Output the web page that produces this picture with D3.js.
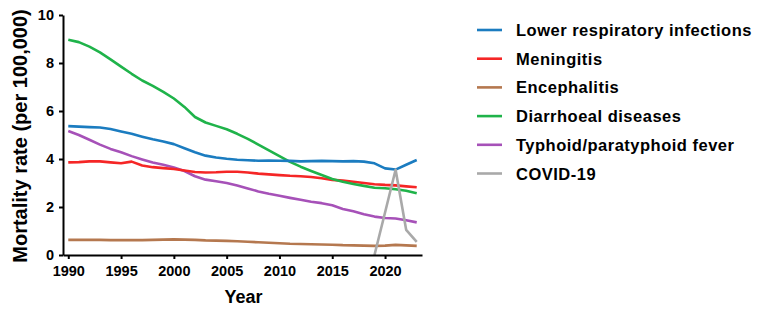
<!DOCTYPE html>
<html>
<head>
<meta charset="utf-8">
<script src="https://cdn.jsdelivr.net/npm/d3@7"></script>
<style>
  html, body { margin: 0; padding: 0; background: #fff; }
  svg { display: block; font-family: "Liberation Sans", Arial, sans-serif; font-weight: bold; }
</style>
</head>
<body>
<svg id="chart" width="762" height="311"></svg>
<script>
const years = d3.range(1990, 2024);

const lowerRespiratory = [5.37,5.35,5.33,5.31,5.25,5.15,5.05,4.93,4.82,4.73,4.62,4.45,4.28,4.14,4.06,4.01,3.97,3.95,3.93,3.94,3.93,3.92,3.90,3.91,3.92,3.91,3.90,3.91,3.89,3.82,3.61,3.56,3.76,3.96];
const meningitis = [3.86,3.87,3.90,3.90,3.86,3.82,3.89,3.73,3.66,3.62,3.58,3.52,3.46,3.44,3.45,3.47,3.47,3.44,3.39,3.36,3.33,3.30,3.28,3.25,3.20,3.13,3.10,3.05,3.00,2.95,2.92,2.90,2.86,2.82];
const encephalitis = [0.63,0.63,0.63,0.63,0.62,0.62,0.62,0.62,0.63,0.64,0.65,0.64,0.63,0.61,0.60,0.59,0.57,0.55,0.53,0.51,0.49,0.47,0.46,0.45,0.44,0.43,0.41,0.40,0.39,0.38,0.39,0.42,0.40,0.38];
const diarrhoeal = [8.97,8.87,8.68,8.44,8.15,7.85,7.55,7.27,7.05,6.80,6.52,6.17,5.75,5.52,5.38,5.24,5.05,4.84,4.60,4.36,4.12,3.88,3.68,3.50,3.33,3.17,3.05,2.96,2.88,2.80,2.78,2.74,2.68,2.57];
const typhoid = [5.17,5.00,4.80,4.60,4.42,4.28,4.12,3.98,3.85,3.76,3.65,3.50,3.28,3.14,3.07,3.00,2.90,2.77,2.65,2.55,2.47,2.38,2.30,2.22,2.16,2.07,1.92,1.82,1.70,1.60,1.54,1.52,1.45,1.36];
const covidYears = [2019, 2020, 2021, 2022, 2023];
const covid = [0, 1.77, 3.55, 1.05, 0.55];

const seriesNames = ["Lower respiratory infections","Meningitis","Encephalitis","Diarrhoeal diseases","Typhoid/paratyphoid fever","COVID-19"];
const seriesColors = ["#1b7cc0","#f52626","#b5784f","#1fb34a","#a651b8","#a9a9a9"];

const xTicks = [1990, 1995, 2000, 2005, 2010, 2015, 2020];
const yTicks = [0, 2, 4, 6, 8, 10];

const series = [
  {name: seriesNames[0], color: seriesColors[0], pts: years.map((y,i)=>[y, lowerRespiratory[i]])},
  {name: seriesNames[1], color: seriesColors[1], pts: years.map((y,i)=>[y, meningitis[i]])},
  {name: seriesNames[2], color: seriesColors[2], pts: years.map((y,i)=>[y, encephalitis[i]])},
  {name: seriesNames[3], color: seriesColors[3], pts: years.map((y,i)=>[y, diarrhoeal[i]])},
  {name: seriesNames[4], color: seriesColors[4], pts: years.map((y,i)=>[y, typhoid[i]])},
  {name: seriesNames[5], color: seriesColors[5], pts: covidYears.map((y,i)=>[y, covid[i]])}
];

const svg = d3.select("#chart");
const x = d3.scaleLinear().domain([1989.5, 2023.5]).range([63, 422]);
const y = d3.scaleLinear().domain([0, 10]).range([255, 15]);

const line = d3.line().x(d => x(d[0])).y(d => y(d[1]));

const drawOrder = [2, 4, 1, 3, 0, 5];
drawOrder.forEach(i => {
  const s = series[i];
  svg.append("path")
    .attr("d", line(s.pts))
    .attr("fill", "none")
    .attr("stroke", s.color)
    .attr("stroke-width", 2.6)
    .attr("stroke-linejoin", "round");
});

// axes
const xAxis = d3.axisBottom(x).tickValues(xTicks).tickFormat(d3.format("d")).tickSize(4).tickPadding(6.5).tickSizeOuter(0);
const yAxis = d3.axisLeft(y).tickValues(yTicks).tickSize(4).tickPadding(5).tickSizeOuter(0);

const gx = svg.append("g").attr("transform", "translate(0,255)").call(xAxis);
const gy = svg.append("g").attr("transform", "translate(63,0)").call(yAxis);
[gx, gy].forEach(g => {
  g.select(".domain").attr("stroke", "#000").attr("stroke-width", 2);
  g.selectAll(".tick line").attr("stroke", "#000").attr("stroke-width", 2);
  g.selectAll(".tick text").attr("fill", "#000").style("font-size", "14.5px").style("font-weight", "bold").style("font-family", "'Liberation Sans', Arial, sans-serif");
});
gy.selectAll(".tick text").attr("dy", "0.3em");

// axis titles
svg.append("text")
  .attr("x", 243.5).attr("y", 303)
  .attr("text-anchor", "middle")
  .style("font-size", "18px")
  .text("Year");

svg.append("text")
  .attr("transform", "translate(27,136) rotate(-90)")
  .attr("text-anchor", "middle")
  .style("font-size", "20px")
  .text("Mortality rate (per 100,000)");

// legend
const legend = svg.append("g");
series.forEach((s, i) => {
  const cy = 30 + i * 28.7;
  legend.append("line")
    .attr("x1", 477).attr("x2", 502)
    .attr("y1", cy).attr("y2", cy)
    .attr("stroke", s.color).attr("stroke-width", 2.6);
  legend.append("text")
    .attr("x", 516).attr("y", cy + 6)
    .style("font-size", "16.5px")
    .style("letter-spacing", "0.5px")
    .text(s.name);
});
</script>
</body>
</html>
